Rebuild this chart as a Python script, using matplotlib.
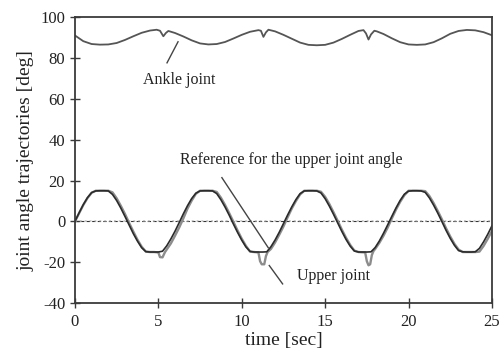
import matplotlib
matplotlib.use("Agg")
import matplotlib.pyplot as plt
import numpy as np

# ---- data ----
upper_t = [0, 0.25, 0.5, 0.75, 1.0, 1.25, 1.5, 1.75, 2.0, 2.25, 2.5, 2.75, 3.0, 3.25, 3.5, 3.75,
           4.0, 4.25, 4.5, 4.75, 5.0, 5.25, 5.5, 5.75, 6.0, 6.25, 6.5, 6.75, 7.0, 7.25, 7.5, 7.75,
           8.0, 8.25, 8.5, 8.75, 9.0, 9.25, 9.5, 9.75, 10.0, 10.25, 10.5, 10.75, 11.0, 11.25, 11.5,
           11.75, 12.0, 12.25, 12.5, 12.75, 13.0, 13.25, 13.5, 13.75, 14.0, 14.25, 14.5, 14.75, 15.0,
           15.25, 15.5, 15.75, 16.0, 16.25, 16.5, 16.75, 17.0, 17.25, 17.5, 17.75, 18.0, 18.25, 18.5,
           18.75, 19.0, 19.25, 19.5, 19.75, 20.0, 20.25, 20.5, 20.75, 21.0, 21.25, 21.5, 21.75, 22.0,
           22.25, 22.5, 22.75, 23.0, 23.25, 23.5, 23.75, 24.0, 24.25, 24.5, 24.75, 25.0]
upper_actual = [0, 4.2, 8.2, 11.6, 14.1, 14.9, 15, 15, 14.9, 13.2, 10.2, 6.5, 2.4, -1.8, -6.0, -9.7,
                -12.9, -14.8, -15, -15, -15, -14.6, -12.0, -8.6, -4.8, -0.6, 3.7, 7.7, 11.2, 13.8, 14.9, 15,
                15, 14.9, 13.6, 10.6, 7.0, 3.0, -1.3, -5.4, -9.2, -12.5, -14.7, -15, -15, -15, -14.9,
                -12.4, -9.1, -5.3, -1.1, 3.1, 7.1, 10.7, 13.6, 14.9, 15, 15, 14.9, 13.9, 11.1,
                7.5, 3.5, -0.7, -4.9, -8.8, -12.1, -14.5, -15, -15, -15, -14.9, -12.8, -9.6, -5.8,
                -1.7, 2.5, 6.6, 10.3, 13.3, 14.8, 15, 15, 14.9, 14.2, 11.5, 8.0, 4.1, -0.1,
                -4.4, -8.3, -11.7, -14.3, -14.9, -15, -15, -14.9, -13.2, -10.0, -6.3, -2.2]

ref_t = [0, 0.25, 0.5, 0.75, 1.0, 1.25, 2.0, 2.25, 2.5, 2.75, 3.0, 3.25, 3.5, 3.75, 4.0, 4.25,
         4.5, 4.75, 5.0, 5.1, 5.25, 5.4, 5.5, 5.75, 6.0, 6.25, 6.5, 6.75, 7.0, 7.25, 7.5, 8.25,
         8.5, 8.75, 9.0, 9.25, 9.5, 9.75, 10.0, 10.25, 10.5, 10.75, 11.0, 11.1, 11.2, 11.35, 11.45,
         11.55, 11.75, 12.0, 12.25, 12.5, 12.75, 13.0, 13.25, 13.5, 13.75, 14.5, 14.75, 15.0, 15.25,
         15.5, 15.75, 16.0, 16.25, 16.5, 16.75, 17.0, 17.4, 17.5, 17.6, 17.7, 17.8, 17.9, 18.0,
         18.25, 18.5, 18.75, 19.0, 19.25, 19.5, 19.75, 20.0, 20.75, 21.0, 21.25, 21.5, 21.75, 22.0,
         22.25, 22.5, 22.75, 23.0, 23.25, 24.0, 24.25, 24.5, 24.75, 25.0]
upper_ref = [0, 4.0, 8.0, 11.4, 14.0, 15, 15, 14.2, 11.3, 7.6, 3.6, -0.8, -5.0, -9.0, -12.4, -14.8,
             -15, -15, -15.2, -17.5, -17.6, -15.0, -13.8, -10.8, -7.0, -3.0, 1.5, 6.3, 10.2, 13.5, 15, 15,
             14.4, 11.6, 8.0, 4.0, -0.2, -4.5, -8.5, -12.0, -14.8, -15, -15.2, -19.5, -21, -21, -17,
             -15, -13.5, -10.3, -6.5, -2.5, 2.0, 6.3, 10.0, 13.2, 15, 15, 14.5, 12.0, 8.5,
             4.5, 0.3, -4.0, -8.0, -11.5, -14.3, -15, -15.2, -19.5, -21.5, -21, -16.5, -14.5, -13.5,
             -10.5, -7.0, -3.0, 1.5, 5.8, 9.6, 12.8, 15, 15, 14.8, 12.4, 9.0, 5.1, 1.0,
             -3.4, -7.4, -11.0, -13.8, -15, -15, -14.8, -12.0, -8.5, -4.7]

ankle_t = [0, 0.5, 1.0, 1.5, 2.0, 2.5, 3.0, 3.5, 4.0, 4.5, 4.9, 5.1, 5.3, 5.45, 5.6, 6.0, 6.5,
           7.0, 7.5, 8.0, 8.5, 9.0, 9.5, 10.0, 10.5, 11.0, 11.15, 11.3, 11.45, 11.6, 12.0, 12.5,
           13.0, 13.5, 14.0, 14.5, 15.0, 15.5, 16.0, 16.5, 17.0, 17.3, 17.45, 17.6, 17.75, 17.95,
           18.1, 18.5, 19.0, 19.5, 20.0, 20.5, 21.0, 21.5, 22.0, 22.5, 23.0, 23.5, 24.0, 24.5, 25.0]
ankle = [91.0, 88.2, 86.8, 86.5, 86.6, 87.3, 88.8, 90.6, 92.3, 93.4, 93.8, 93.3, 90.6, 92.2, 93.2,
         92.2, 90.5, 88.6, 87.1, 86.6, 86.8, 87.8, 89.5, 91.3, 92.8, 93.6, 93.3, 90.3, 92.5, 93.8,
         93.0, 91.3, 89.4, 87.5, 86.4, 86.2, 86.4, 87.5, 89.3, 91.3, 93.2, 93.6, 92.0, 89.0, 91.5,
         93.3, 93.0, 91.7, 89.6, 87.7, 86.6, 86.4, 86.6, 87.7, 89.6, 91.8, 93.2, 93.7, 93.5, 92.6, 91.1]

ref_line_t = [0, 25]
ref_line_v = [0, 0]

x_ticks = [0, 5, 10, 15, 20, 25]
y_ticks = [-40, -20, 0, 20, 40, 60, 80, 100]

plt.rcParams['font.family'] = ['Liberation Serif', 'DejaVu Serif']
plt.rcParams['axes.unicode_minus'] = False

fig = plt.figure(figsize=(5.03, 3.63), dpi=100)
ax = fig.add_axes([0.149, 0.165, 0.829, 0.788])

axc = '#3a3a3a'
ax.plot(ref_line_t, ref_line_v, color='#333333', lw=0.8, ls=(0, (3, 2)))
ax.plot(ref_line_t, ref_line_v, color='#aaaaaa', lw=1.4, ls=(0, (1, 1.5)), alpha=0.6)
ax.plot(ref_t, upper_ref, color='#8c8c8c', lw=1.7)
ax.plot(upper_t, upper_actual, color='#2b2b2b', lw=1.2)
ax.plot(ankle_t, ankle, color='#555555', lw=1.3)

# annotations
ax.text(4.08, 69.2, 'Ankle joint', fontsize=11.5, va='center', ha='left', color='#222222')
ax.plot([5.52, 6.18], [77.6, 87.9], color='#444444', lw=1.0)
ax.text(6.3, 29.8, 'Reference for the upper joint angle', fontsize=11.5, va='center',
        ha='left', color='#222222')
ax.plot([8.81, 11.59], [21.4, -12.9], color='#444444', lw=1.0)
ax.text(13.3, -26.8, 'Upper joint', fontsize=11.5, va='center', ha='left', color='#222222')
ax.plot([11.65, 12.45], [-21.6, -30.6], color='#444444', lw=1.0)

ax.set_xlim(0, 25)
ax.set_ylim(-40, 100)
ax.set_xticks(x_ticks)
ax.set_yticks(y_ticks)
ax.tick_params(axis='both', direction='inout', length=7, width=1.0, colors=axc,
               labelsize=12, labelcolor='#222222')
ax.tick_params(axis='x', pad=4)
for s in ax.spines.values():
    s.set_color(axc)
    s.set_linewidth(1.3)

ax.set_xlabel('time [sec]', fontsize=14, color='#222222', labelpad=2)
ax.set_ylabel('joint angle trajectories [deg]', fontsize=14, color='#222222', labelpad=4)

fig.savefig('out.png', dpi=100)
